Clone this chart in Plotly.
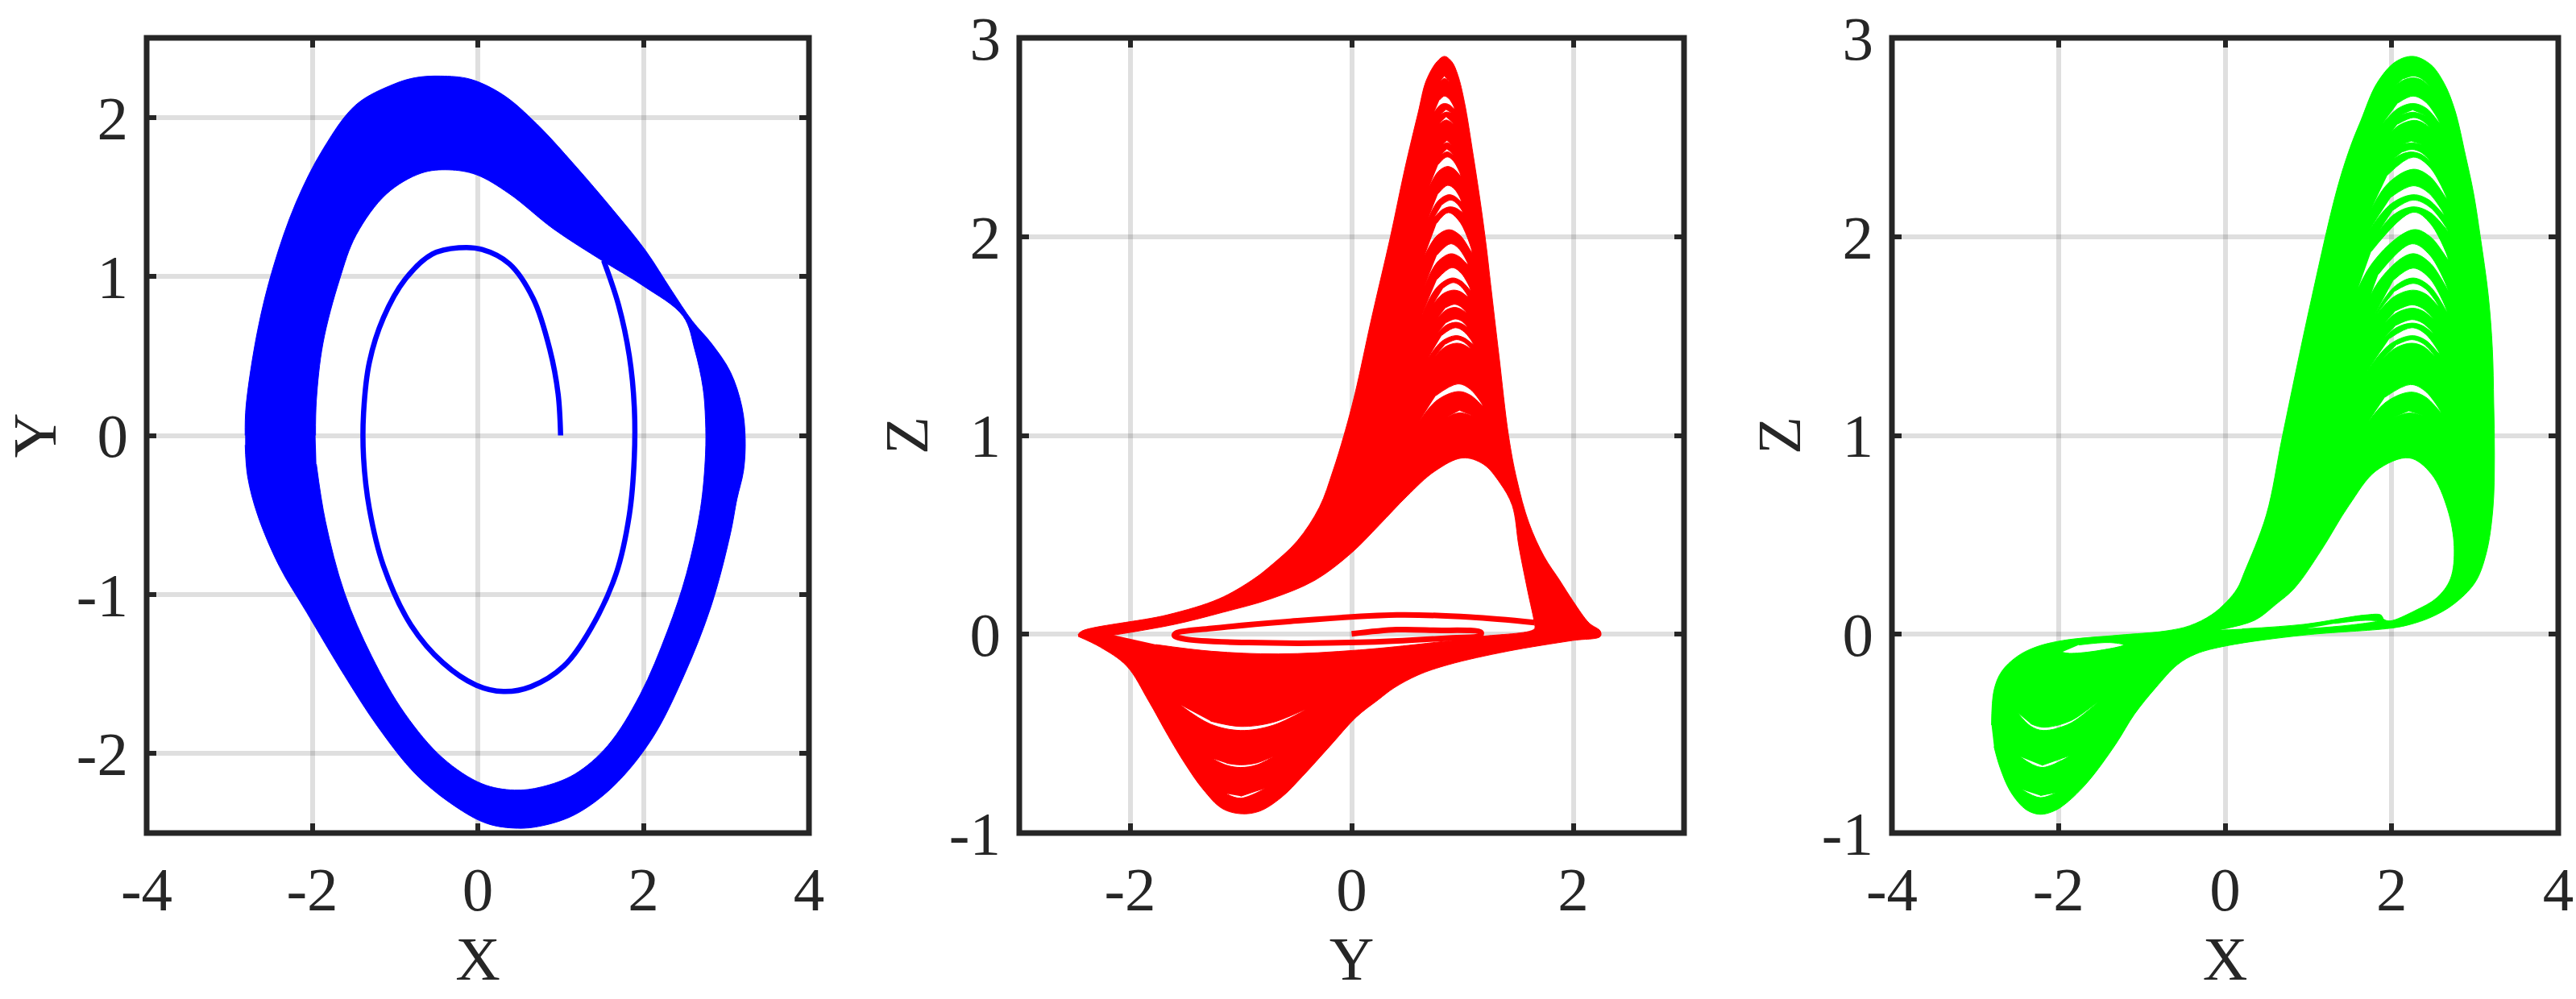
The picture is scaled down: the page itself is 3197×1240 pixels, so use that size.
import plotly.graph_objects as go

# ---------- Panel 1: X-Y ----------
blue_outer_x = [-2.81,-2.80,-2.66,-2.47,-2.20,-1.87,-1.47,-1.01,-0.75,-0.45,-0.09,0.31,0.71,1.17,1.63,2.03,2.33,2.59,2.82,3.05,3.19,3.23,3.21,3.13,3.05,2.82,2.49,2.10,1.63,1.17,0.77,0.48,0.11,-0.28,-0.75,-1.21,-1.61,-2.07,-2.40,-2.66,-2.78,-2.81]
blue_outer_y = [0,0.18,0.66,1.06,1.46,1.80,2.08,2.21,2.25,2.26,2.24,2.14,1.96,1.70,1.42,1.16,0.92,0.72,0.58,0.40,0.18,-0.02,-0.22,-0.40,-0.62,-1.07,-1.51,-1.91,-2.21,-2.385,-2.455,-2.47,-2.44,-2.33,-2.13,-1.83,-1.51,-1.11,-0.82,-0.50,-0.26,-0.06]
blue_hole_x = [-1.96,-1.95,-1.87,-1.67,-1.47,-1.10,-0.68,-0.35,-0.02,0.38,0.91,1.50,2.00,2.48,2.62,2.72,2.75,2.75,2.69,2.52,2.29,1.96,1.57,1.17,0.77,0.44,0.05,-0.42,-0.88,-1.28,-1.61,-1.84,-1.95]
blue_hole_y = [0,0.22,0.58,0.98,1.26,1.52,1.65,1.67,1.64,1.52,1.30,1.10,0.94,0.75,0.54,0.30,0.10,-0.12,-0.46,-0.87,-1.23,-1.63,-1.95,-2.13,-2.21,-2.23,-2.19,-2.03,-1.75,-1.39,-0.99,-0.54,-0.18]
blue_line_x = [1.0,0.97,0.87,0.67,0.38,0.05,-0.23,-0.55,-0.88,-1.14,-1.31,-1.38,-1.38,-1.31,-1.14,-0.81,-0.42,-0.02,0.31,0.64,1.04,1.37,1.67,1.83,1.89,1.89,1.83,1.70,1.52]
blue_line_y = [0,0.26,0.54,0.86,1.08,1.17,1.18,1.14,0.98,0.74,0.46,0.14,-0.14,-0.46,-0.82,-1.19,-1.43,-1.57,-1.61,-1.58,-1.45,-1.21,-0.87,-0.50,-0.14,0.18,0.50,0.82,1.10]

# ---------- Panel 2: Y-Z ----------
red_outer_y = [-2.47,-2.435,-1.666,-1.198,-0.898,-0.74,-0.49,-0.29,-0.17,-0.07,0.03,0.18,0.35,0.479,0.60,0.673,0.77,0.838,0.904,0.959,1.018,1.098,1.171,1.219,1.255,1.33,1.416,1.49,1.60,1.738,1.876,2.0,2.144,2.244,2.244,1.993,1.408,0.874,0.60,0.382,0.239,0.043,-0.2,-0.443,-0.637,-0.831,-1.0,-1.17,-1.34,-1.51,-1.656,-1.833,-2.03,-2.268,-2.468]
red_outer_z = [-0.003,0.016,0.097,0.178,0.2725,0.34,0.47,0.64,0.82,1.0,1.21,1.59,2.0,2.339,2.623,2.785,2.88,2.907,2.88,2.812,2.677,2.407,2.137,1.934,1.758,1.40,1.0,0.78,0.56,0.39,0.2725,0.165,0.056,0.016,-0.011,-0.0315,-0.0855,-0.153,-0.205,-0.27,-0.33,-0.416,-0.565,-0.714,-0.822,-0.89,-0.903,-0.876,-0.781,-0.646,-0.511,-0.335,-0.16,-0.065,-0.011]
red_hole_y = [-2.151,-1.599,-1.165,-0.731,-0.329,0.0,0.25,0.50,0.75,1.0,1.19,1.34,1.45,1.51,1.59,1.649,1.649,1.174,0.907,0.072,-0.664,-1.265,-1.767]
red_hole_z = [-0.0045,0.0496,0.110,0.178,0.2725,0.41,0.55,0.695,0.82,0.887,0.855,0.76,0.647,0.44,0.215,0.056,0.0266,-0.011,-0.031,-0.079,-0.099,-0.0855,-0.052]
red_loop_y = [1.649,1.074,0.406,-0.597,-1.265,-1.583,-1.60,-1.50,-0.931,0.072,0.907,1.158,1.168,0.740,0.406,0.0]
red_loop_z = [0.059,0.086,0.097,0.063,0.029,0.006,-0.007,-0.025,-0.042,-0.041,-0.018,-0.007,0.009,0.020,0.023,0.002]
# white gaps: left tip, lower edge, right tip, upper edge
red_gaps_y = [
    [0.802,0.838,0.879,0.838],
    [0.746,0.792,0.838,0.883,0.928,0.883,0.838,0.792],
    [0.807,0.855,0.896,0.855],
    [0.787,0.855,0.916,0.855],
    [0.824,0.862,0.899,0.862],
    [0.812,0.862,0.916,0.862],
    [0.702,0.782,0.862,0.923,0.984,0.923,0.862,0.782],
    [0.69,0.78,0.872,0.93,0.989,0.93,0.867,0.78],
    [0.746,0.818,0.887,0.945,1.001,0.945,0.892,0.818],
    [0.661,0.767,0.879,0.98,1.086,0.98,0.872,0.767],
    [0.649,0.77,0.892,0.97,1.049,0.97,0.892,0.77],
    [0.637,0.77,0.904,0.989,1.073,0.989,0.904,0.77],
    [0.741,0.828,0.916,0.983,1.049,0.983,0.916,0.828],
    [0.775,0.85,0.928,0.98,1.037,0.98,0.928,0.85],
    [0.775,0.855,0.935,0.99,1.044,0.99,0.935,0.855],
    [0.693,0.814,0.935,1.016,1.098,1.016,0.935,0.814],
    [0.751,0.848,0.945,1.009,1.073,1.009,0.945,0.848],
    [0.559,0.759,0.959,1.071,1.183,1.071,0.959,0.759],
    [0.855,0.976,1.098,0.976],
    [-1.547,-1.274,-1.001,-0.71,-0.418,-0.71,-1.001,-1.274],
    [-1.255,-1.128,-1.001,-0.855,-0.710,-0.855,-1.001,-1.128],
    [-1.134,-1.001,-0.782,-1.001]]
red_gaps_z = [
    [2.782,2.796,2.782,2.807],
    [2.626,2.659,2.670,2.663,2.643,2.691,2.707,2.687],
    [2.616,2.627,2.623,2.639],
    [2.566,2.587,2.569,2.603],
    [2.464,2.473,2.464,2.483],
    [2.414,2.427,2.414,2.441],
    [2.252,2.328,2.353,2.341,2.306,2.377,2.401,2.364],
    [2.089,2.18,2.211,2.203,2.177,2.238,2.258,2.216],
    [2.096,2.136,2.15,2.143,2.123,2.169,2.184,2.162],
    [1.907,2.003,2.035,2.006,1.921,2.071,2.121,2.067],
    [1.738,1.87,1.914,1.90,1.86,1.938,1.964,1.908],
    [1.61,1.746,1.792,1.777,1.731,1.816,1.844,1.785],
    [1.664,1.714,1.731,1.723,1.698,1.751,1.769,1.743],
    [1.59,1.63,1.644,1.637,1.617,1.649,1.66,1.643],
    [1.515,1.555,1.569,1.563,1.545,1.576,1.586,1.568],
    [1.391,1.474,1.502,1.491,1.459,1.521,1.542,1.504],
    [1.396,1.447,1.464,1.457,1.437,1.471,1.482,1.46],
    [1.025,1.172,1.221,1.203,1.15,1.232,1.259,1.2],
    [1.090,1.114,1.097,1.126],
    [-0.356,-0.452,-0.484,-0.458,-0.379,-0.443,-0.464,-0.437],
    [-0.626,-0.659,-0.670,-0.657,-0.616,-0.647,-0.657,-0.649],
    [-0.802,-0.825,-0.775,-0.815]]

# ---------- Panel 3: X-Z ----------
green_outer_x = [-2.804,-2.774,-2.682,-2.497,-2.275,-1.942,-1.275,-0.72,-0.424,-0.165,0.02,0.149,0.23,0.495,0.69,1.02,1.339,1.5,1.629,1.823,2.048,2.258,2.467,2.629,2.758,2.887,2.983,3.064,3.16,3.209,3.225,3.234,3.215,3.135,3.0,2.74,2.475,2.21,1.981,0.945,0.02,-0.35,-0.572,-0.831,-1.09,-1.312,-1.645,-1.905,-2.053,-2.219,-2.386,-2.571,-2.70,-2.774]
green_outer_z = [-0.457,-0.281,-0.187,-0.112,-0.065,-0.031,-0.0044,0.016,0.043,0.097,0.164,0.232,0.31,0.60,1.0,1.655,2.231,2.447,2.583,2.772,2.88,2.907,2.866,2.772,2.637,2.407,2.218,2.0,1.704,1.434,1.164,0.9,0.63,0.407,0.26,0.15,0.086,0.048,0.03,-0.0044,-0.058,-0.099,-0.153,-0.268,-0.403,-0.552,-0.741,-0.849,-0.889,-0.906,-0.883,-0.795,-0.673,-0.565]
green_hole_x = [-0.073,0.353,0.612,0.834,1.155,1.485,1.815,2.21,2.475,2.67,2.75,2.706,2.541,2.277,1.98,1.907,1.87,1.685,0.945,0.205]
green_hole_z = [0.0226,0.07,0.151,0.232,0.423,0.647,0.823,0.887,0.807,0.63,0.44,0.279,0.183,0.118,0.067,0.075,0.097,0.097,0.05,0.027]
green_gaps_x = [
    [0.964,1.5,1.822,1.685,1.315],
    [-1.96,-1.868,-1.571,-1.22,-1.386,-1.756],
    [-2.489,-2.335,-2.182,-1.858,-1.534,-1.858,-2.182,-2.335],
    [-2.46,-2.2,-1.868,-2.2],
    [-2.441,-2.219,-2.034,-2.219],
    [2.022,2.14,2.258,2.355,2.451,2.355,2.258,2.14],
    [1.894,2.076,2.258,2.419,2.580,2.419,2.258,2.076],
    [2.097,2.258,2.403,2.258],
    [1.887,2.072,2.258,2.355,2.451,2.355,2.258,2.072],
    [2.129,2.242,2.355,2.242],
    [2.022,2.132,2.242,2.355,2.467,2.355,2.242,2.132],
    [1.645,1.95,2.258,2.46,2.661,2.46,2.258,1.95],
    [1.726,1.992,2.258,2.444,2.629,2.444,2.258,1.992],
    [1.774,2.016,2.258,2.468,2.677,2.468,2.258,2.016],
    [1.25,1.754,2.258,2.468,2.677,2.468,2.258,1.754],
    [1.436,1.839,2.242,2.46,2.677,2.46,2.242,1.839],
    [1.79,2.024,2.258,2.462,2.667,2.462,2.258,2.024],
    [1.82,2.039,2.258,2.411,2.564,2.411,2.258,2.039],
    [1.855,2.048,2.242,2.371,2.5,2.371,2.242,2.048],
    [1.871,2.056,2.242,2.371,2.5,2.371,2.242,2.056],
    [1.71,1.976,2.242,2.411,2.58,2.411,2.242,1.976],
    [1.887,2.065,2.242,2.379,2.516,2.379,2.242,2.065],
    [1.613,1.92,2.226,2.408,2.59,2.408,2.226,1.92],
    [2.0,2.21,2.387,2.21]]
green_gaps_z = [
    [0.027,0.046,0.066,0.07,0.054],
    [-0.09,-0.096,-0.0855,-0.054,-0.042,-0.054],
    [-0.396,-0.462,-0.484,-0.448,-0.342,-0.436,-0.468,-0.45],
    [-0.616,-0.67,-0.612,-0.66],
    [-0.781,-0.822,-0.797,-0.812],
    [2.751,2.787,2.799,2.789,2.758,2.7955,2.808,2.794],
    [2.569,2.645,2.670,2.645,2.569,2.6725,2.707,2.6725],
    [2.6096,2.626,2.6096,2.637],
    [2.4677,2.556,2.585,2.577,2.553,2.587,2.599,2.566],
    [2.464,2.472,2.464,2.480],
    [2.391,2.417,2.426,2.414,2.377,2.4235,2.439,2.427],
    [2.042,2.265,2.339,2.302,2.191,2.348,2.400,2.31],
    [2.029,2.165,2.211,2.186,2.110,2.2195,2.256,2.199],
    [1.981,2.108,2.150,2.12,2.029,2.145,2.184,2.133],
    [1.33,1.859,2.035,1.998,1.887,2.064,2.123,1.925],
    [1.346,1.772,1.914,1.868,1.731,1.906,1.964,1.81],
    [1.603,1.745,1.792,1.749,1.621,1.787,1.842,1.782],
    [1.61,1.701,1.731,1.711,1.65,1.736,1.765,1.726],
    [1.536,1.614,1.64,1.627,1.586,1.639,1.657,1.627],
    [1.472,1.542,1.565,1.552,1.513,1.5655,1.583,1.555],
    [1.326,1.458,1.502,1.478,1.407,1.508,1.542,1.488],
    [1.384,1.444,1.464,1.448,1.40,1.4615,1.482,1.4575],
    [1.002,1.164,1.218,1.193,1.117,1.221,1.256,1.1925],
    [1.086,1.113,1.10,1.123]]

# ---------- Axes ----------
x_ticks_xy = [-4, -2, 0, 2, 4]
y_ticks_xy = [-2, -1, 0, 1, 2]
y_ticks_yz = [-2, 0, 2]
z_ticks = [-1, 0, 1, 2, 3]
x_labels_xy = ["-4", "-2", "0", "2", "4"]
y_labels_xy = ["-2", "-1", "0", "1", "2"]
y_labels_yz = ["-2", "0", "2"]
z_labels = ["-1", "0", "1", "2", "3"]

W, H = 3197, 1240
INK = "#262626"
FONT = "Liberation Serif, Times New Roman, serif"
FS = 77
GRID = "rgba(0,0,0,0.125)"


def join(outer, holes):
    out = list(outer)
    for h in holes:
        out += [None] + list(h)
    return out


fig = go.Figure()


def blob(xa, ya, xs, ys, color):
    fig.add_trace(go.Scatter(x=xs, y=ys, xaxis=xa, yaxis=ya, mode="lines", fill="toself",
                             fillcolor=color, hoverinfo="skip",
                             line=dict(color=color, width=1, shape="spline", smoothing=1.0, simplify=False)))


def curve(xa, ya, xs, ys, color, w):
    fig.add_trace(go.Scatter(x=xs, y=ys, xaxis=xa, yaxis=ya, mode="lines", hoverinfo="skip",
                             line=dict(color=color, width=w, shape="spline", smoothing=1.0, simplify=False)))


blob("x", "y", join(blue_outer_x, [blue_hole_x[::-1]]), join(blue_outer_y, [blue_hole_y[::-1]]), "#0000ff")
curve("x", "y", blue_line_x, blue_line_y, "#0000ff", 6.5)
blob("x2", "y2", join(red_outer_y, [red_hole_y[::-1]] + red_gaps_y), join(red_outer_z, [red_hole_z[::-1]] + red_gaps_z), "#ff0000")
curve("x2", "y2", red_loop_y, red_loop_z, "#ff0000", 7)
blob("x3", "y3", join(green_outer_x, [green_hole_x[::-1]] + green_gaps_x), join(green_outer_z, [green_hole_z[::-1]] + green_gaps_z), "#00ff00")


def xaxis(left, right, rng, ticks, labels, title):
    return dict(domain=[left / W, right / W], range=rng, tickmode="array", tickvals=ticks, ticktext=labels,
                ticks="inside", ticklen=12, tickwidth=6, tickcolor=INK, mirror="ticks", showline=False,
                showgrid=True, gridcolor=GRID, gridwidth=6, zeroline=False, ticklabelstandoff=18, automargin=False,
                tickfont=dict(family=FONT, size=FS, color=INK),
                title=dict(text=title, font=dict(family=FONT, size=FS, color=INK), standoff=8))


def yaxis(rng, ticks, labels, title, standoff):
    return dict(domain=[1 - 1034 / H, 1 - 47 / H], range=rng, tickmode="array", tickvals=ticks, ticktext=labels,
                ticks="inside", ticklen=12, tickwidth=6, tickcolor=INK, mirror="ticks", showline=False,
                showgrid=True, gridcolor=GRID, gridwidth=6, zeroline=False, ticklabelstandoff=22, automargin=False,
                tickfont=dict(family=FONT, size=FS, color=INK),
                title=dict(text=title, font=dict(family=FONT, size=FS, color=INK), standoff=standoff))


frames = [dict(type="rect", xref=f"{a} domain", yref=f"{b} domain", x0=0, x1=1, y0=0, y1=1, layer="above",
               line=dict(color=INK, width=7), fillcolor="rgba(0,0,0,0)") for a, b in (("x", "y"), ("x2", "y2"), ("x3", "y3"))]

fig.update_layout(
    width=W, height=H, autosize=False, showlegend=False, paper_bgcolor="white", plot_bgcolor="white",
    margin=dict(l=0, r=0, t=0, b=0), shapes=frames,
    xaxis=xaxis(182, 1004, [-4, 4], x_ticks_xy, x_labels_xy, "X"),
    yaxis=yaxis([-2.5, 2.5], y_ticks_xy, y_labels_xy, "Y", 12),
    xaxis2=dict(**xaxis(1265, 2090, [-3, 3], y_ticks_yz, y_labels_yz, "Y"), anchor="y2"),
    yaxis2=dict(**yaxis([-1, 3], z_ticks, z_labels, "Z", 0), anchor="x2"),
    xaxis3=dict(**xaxis(2348, 3175, [-4, 4], x_ticks_xy, x_labels_xy, "X"), anchor="y3"),
    yaxis3=dict(**yaxis([-1, 3], z_ticks, z_labels, "Z", 0), anchor="x3"),
)

fig.write_html("out.html", config={"displayModeBar": False},
               post_script="document.body.style.margin='0';document.documentElement.style.overflow='hidden';")
